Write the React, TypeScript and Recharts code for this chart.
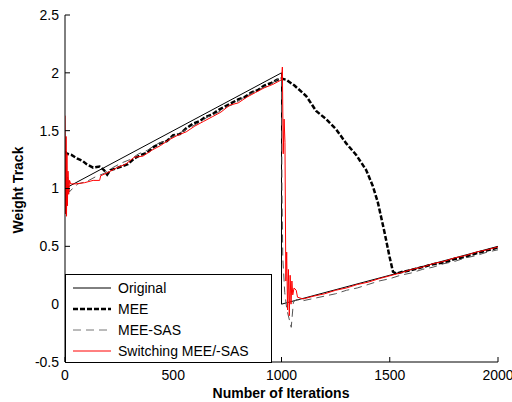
import React from 'react';
import { LineChart, Line, XAxis, YAxis } from 'recharts';

// iteration / weight pairs
const originalX = [0, 1000, 1000, 2000];
const originalY = [1, 2, 0, 0.5];

const meeX = [0, 10, 30, 55, 80, 100, 130, 160, 180, 195, 210, 230, 260, 290, 320, 350, 380, 410, 440, 470, 500, 530, 560, 590, 620, 650, 680, 710, 740, 770, 800, 830, 860, 890, 920, 950, 980, 1000, 1022, 1060, 1114, 1160, 1206, 1253, 1299, 1345, 1391, 1422, 1445, 1476, 1499, 1515, 1530, 1560, 1600, 1650, 1700, 1750, 1800, 1850, 1900, 1950, 2000];
const meeY = [1.32, 1.3, 1.29, 1.26, 1.24, 1.21, 1.18, 1.19, 1.16, 1.12, 1.16, 1.17, 1.19, 1.21, 1.26, 1.29, 1.31, 1.36, 1.39, 1.41, 1.46, 1.47, 1.52, 1.56, 1.58, 1.62, 1.64, 1.68, 1.71, 1.74, 1.77, 1.79, 1.83, 1.85, 1.89, 1.91, 1.94, 1.95, 1.94, 1.89, 1.8, 1.67, 1.6, 1.51, 1.39, 1.29, 1.16, 1.02, 0.88, 0.62, 0.41, 0.28, 0.265, 0.28, 0.295, 0.32, 0.345, 0.36, 0.39, 0.41, 0.44, 0.465, 0.49];

const sasX = [0, 6, 12, 20, 35, 60, 100, 140, 180, 220, 260, 300, 340, 380, 420, 460, 500, 540, 580, 620, 660, 700, 740, 780, 820, 860, 900, 940, 980, 1000, 1002, 1006, 1015, 1025, 1045, 1055, 1070, 1100, 1150, 1200, 1250, 1300, 1350, 1400, 1450, 1500, 1550, 1600, 1650, 1700, 1750, 1800, 1850, 1900, 1950, 2000];
const sasY = [1.2, 0.92, 1.1, 0.97, 1.0, 1.04, 1.06, 1.1, 1.13, 1.18, 1.22, 1.25, 1.3, 1.33, 1.38, 1.41, 1.45, 1.49, 1.53, 1.57, 1.62, 1.65, 1.7, 1.73, 1.78, 1.82, 1.86, 1.89, 1.94, 1.96, 1.0, 0.4, 0.1, -0.05, -0.2, 0.02, 0.04, 0.03, 0.05, 0.07, 0.09, 0.12, 0.14, 0.17, 0.2, 0.22, 0.25, 0.27, 0.3, 0.32, 0.35, 0.37, 0.4, 0.42, 0.45, 0.47];

const switchX = [0, 3, 5, 7, 9, 11, 14, 17, 21, 26, 50, 90, 130, 160, 165, 200, 240, 280, 320, 360, 400, 440, 480, 520, 560, 600, 640, 680, 720, 760, 800, 840, 880, 920, 960, 1000, 1004, 1008, 1012, 1016, 1020, 1024, 1028, 1032, 1036, 1040, 1044, 1048, 1052, 1058, 1068, 1074, 1100, 1150, 1200, 1250, 1300, 1350, 1400, 1450, 1500, 1550, 1600, 1650, 1700, 1750, 1800, 1850, 1900, 1950, 2000];
const switchY = [1.63, 0.78, 1.45, 0.76, 1.3, 0.85, 1.15, 0.95, 1.07, 1.04, 1.04, 1.05, 1.07, 1.07, 1.11, 1.14, 1.18, 1.21, 1.27, 1.28, 1.33, 1.37, 1.42, 1.46, 1.49, 1.54, 1.58, 1.62, 1.66, 1.72, 1.74, 1.79, 1.83, 1.87, 1.9, 1.94, 2.05, 1.3, 1.6, 1.4, 0.2, 0.45, -0.05, 0.3, -0.1, 0.25, 0.0, 0.2, 0.08, 0.14, 0.12, 0.06, 0.045, 0.07, 0.09, 0.12, 0.14, 0.17, 0.19, 0.22, 0.245, 0.27, 0.3, 0.32, 0.35, 0.37, 0.4, 0.42, 0.45, 0.47, 0.495];

const xTicks = [0, 500, 1000, 1500, 2000];
const yTicks = [-0.5, 0, 0.5, 1, 1.5, 2, 2.5];

const zip = (xs: number[], ys: number[]) => xs.map((x, i) => ({ x, y: ys[i] }));

const FONT = '"Liberation Sans", Arial, sans-serif';
const tickStyle = { fontSize: 14, fill: '#000', fontFamily: FONT };
const tickLineStyle = { stroke: '#000', strokeWidth: 1 };

const legendItems = [
  { name: 'Original', stroke: '#000', width: 1, dash: undefined },
  { name: 'MEE', stroke: '#000', width: 2.5, dash: '5 2' },
  { name: 'MEE-SAS', stroke: '#777', width: 1, dash: '8 5' },
  { name: 'Switching MEE/-SAS', stroke: '#ff0000', width: 1, dash: undefined },
];

export default function App() {
  return (
    <div style={{ position: 'absolute', left: 0, top: 0, width: 512, height: 402, background: '#fff' }}>
      <LineChart width={512} height={402} margin={{ top: 15, right: 14, bottom: 10, left: 0 }}>
        <XAxis
          type="number"
          dataKey="x"
          domain={[0, 2000]}
          ticks={xTicks}
          allowDataOverflow
          height={30}
          tickSize={-5}
          tickMargin={13}
          tick={tickStyle}
          tickLine={tickLineStyle}
          stroke="#000"
        />
        <XAxis
          xAxisId="top"
          orientation="top"
          type="number"
          dataKey="x"
          domain={[0, 2000]}
          ticks={xTicks}
          height={0}
          tickSize={-5}
          tick={() => <g />}
          tickLine={tickLineStyle}
          stroke="#000"
        />
        <YAxis
          type="number"
          domain={[-0.5, 2.5]}
          ticks={yTicks}
          allowDataOverflow
          width={65}
          tickSize={-5}
          tickMargin={11}
          tick={tickStyle}
          tickLine={tickLineStyle}
          stroke="#000"
        />
        <YAxis
          yAxisId="right"
          orientation="right"
          type="number"
          domain={[-0.5, 2.5]}
          ticks={yTicks}
          width={0}
          tickSize={-5}
          tick={() => <g />}
          tickLine={tickLineStyle}
          stroke="#000"
        />
        <Line data={zip(originalX, originalY)} dataKey="y" stroke="#000" strokeWidth={1} dot={false} isAnimationActive={false} />
        <Line data={zip(meeX, meeY)} dataKey="y" stroke="#000" strokeWidth={2.5} strokeDasharray="5 2" dot={false} isAnimationActive={false} />
        <Line data={zip(sasX, sasY)} dataKey="y" stroke="#555" strokeWidth={1} strokeDasharray="8 5" dot={false} isAnimationActive={false} />
        <Line data={zip(switchX, switchY)} dataKey="y" stroke="#ff0000" strokeWidth={1} dot={false} isAnimationActive={false} />
      </LineChart>

      {/* legend box, bottom-left inside the axes */}
      <div
        style={{
          position: 'absolute', left: 65, top: 274, width: 205, height: 87,
          border: '1px solid #000', background: '#fff', fontFamily: FONT, fontSize: 14,
        }}
      >
        {legendItems.map((item, i) => (
          <div key={item.name} style={{ position: 'absolute', left: 7, top: 3 + i * 21, height: 20, display: 'flex', alignItems: 'center' }}>
            <svg width={40} height={6}>
              <line x1={0} y1={3} x2={38} y2={3} stroke={item.stroke} strokeWidth={item.width} strokeDasharray={item.dash} />
            </svg>
            <span style={{ marginLeft: 5, whiteSpace: 'nowrap' }}>{item.name}</span>
          </div>
        ))}
      </div>

      <div
        style={{
          position: 'absolute', left: 18, top: 190, transform: 'translate(-50%, -50%) rotate(-90deg)',
          fontFamily: FONT, fontSize: 14, fontWeight: 'bold', whiteSpace: 'nowrap',
        }}
      >
        Weight Track
      </div>
      <div
        style={{
          position: 'absolute', left: 281, top: 393, transform: 'translate(-50%, -50%)',
          fontFamily: FONT, fontSize: 14, fontWeight: 'bold', whiteSpace: 'nowrap',
        }}
      >
        Number of Iterations
      </div>
    </div>
  );
}
